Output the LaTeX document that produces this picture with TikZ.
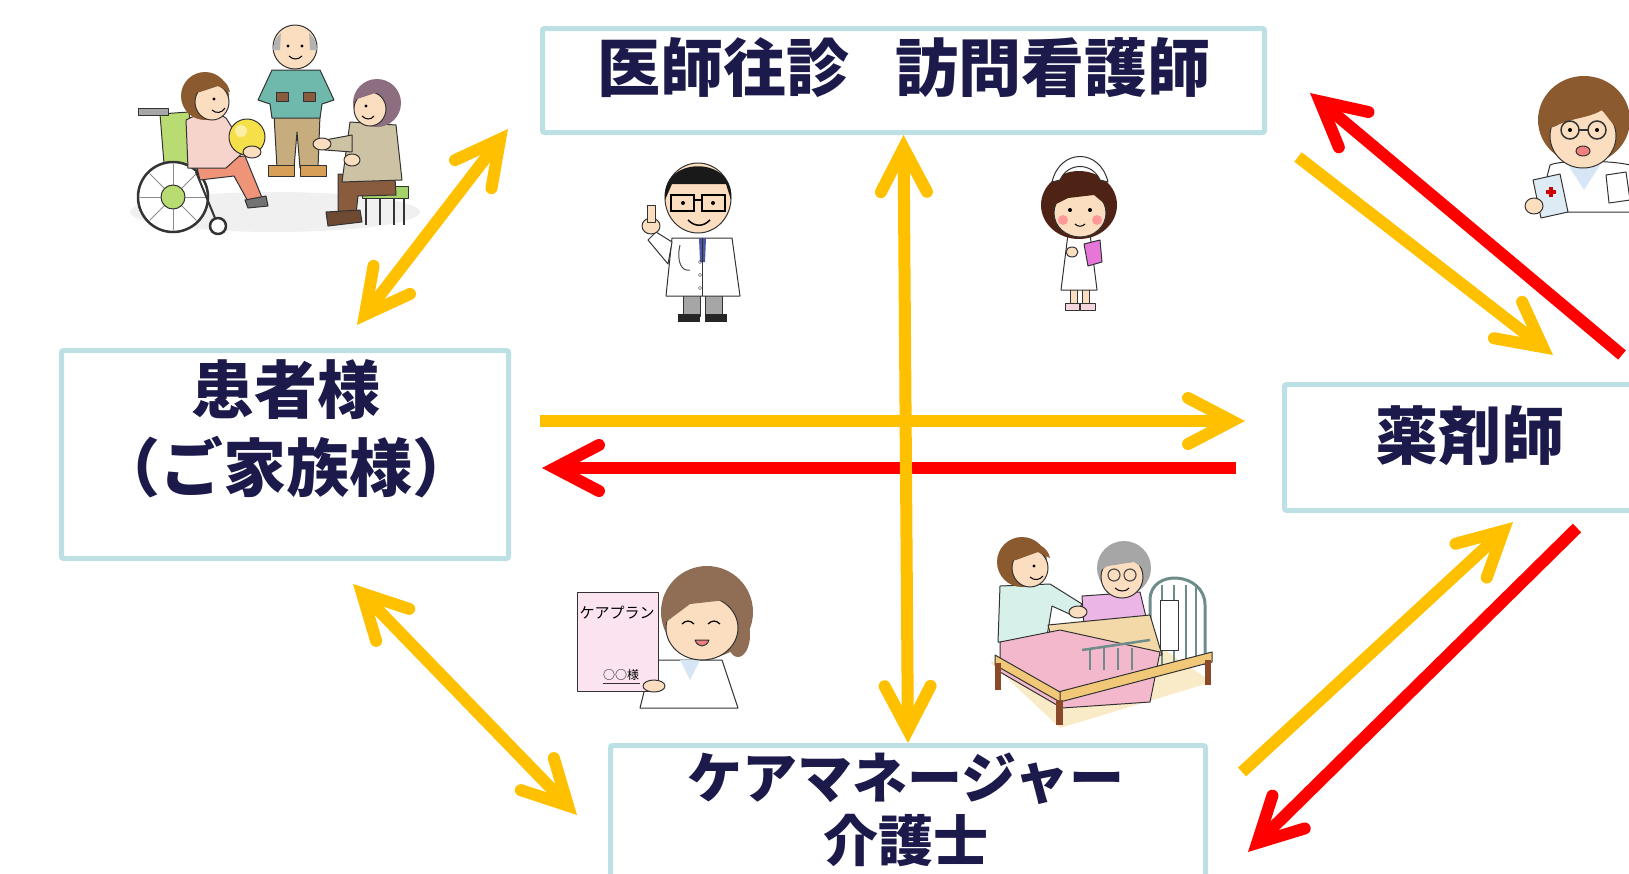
\documentclass[tikz,border=0pt]{standalone}
\usepackage{fontspec}
\newfontfamily\jp{Noto Sans CJK JP}
\usetikzlibrary{arrows.meta,calc}
\definecolor{boxline}{HTML}{BCE0E4}
\definecolor{ink}{HTML}{1C1A4B}
\definecolor{flowY}{HTML}{FFC000}
\definecolor{flowR}{HTML}{FF0000}
\definecolor{skin}{HTML}{FBDDBF}
\definecolor{hairbrown}{HTML}{8B5A2E}
\definecolor{wcgreen}{HTML}{B9DC72}
\definecolor{salmon}{HTML}{EF9379}
\definecolor{pinktop}{HTML}{F6D3CB}
\definecolor{ballY}{HTML}{F5E04A}
\definecolor{teal}{HTML}{6FB9AC}
\definecolor{khaki}{HTML}{C7AC7E}
\definecolor{cardigan}{HTML}{CDC2A4}
\definecolor{purplehair}{HTML}{8D6D80}
\definecolor{brownpants}{HTML}{8A5C3E}
\definecolor{stoolgreen}{HTML}{A6D26A}
\definecolor{tieblue}{HTML}{4A56A0}
\definecolor{hairdark}{HTML}{4E2316}
\definecolor{clippink}{HTML}{E676D8}
\definecolor{pinkshoe}{HTML}{F4D6DE}
\definecolor{boxblue}{HTML}{DDEBF5}
\definecolor{mouthpink}{HTML}{F08080}
\definecolor{hairCM}{HTML}{8F6E55}
\definecolor{sheetpink}{HTML}{FBE4F0}
\definecolor{scarfblue}{HTML}{D6E6F4}
\definecolor{floorcream}{HTML}{F9EBC8}
\definecolor{rail}{HTML}{6E8C8A}
\definecolor{oldpink}{HTML}{EBB5E6}
\definecolor{mint}{HTML}{D7F0EA}
\definecolor{duvet}{HTML}{F3D9A8}
\definecolor{blanketpink}{HTML}{F4B8CC}
\definecolor{wood}{HTML}{F0C878}
\definecolor{legbrown}{HTML}{8A4A2A}
\begin{document}
\begin{tikzpicture}[x=1pt,y=-1pt,
  rolebox/.style={draw=boxline, line width=5pt, rounded corners=2pt, fill=white,
    inner sep=0pt, outer sep=2.5pt},
  lbl/.style={font=\jp\bfseries\fontsize{63}{77}\selectfont, text=ink, inner sep=0pt},
  lblsm/.style={font=\jp\bfseries\fontsize{55}{62}\selectfont, text=ink, inner sep=0pt},
  barb/.tip={Straight Barb[length=44pt,width=46pt,line cap=round,line join=miter]},
  flow/.style={line width=12pt},
  yflow/.style={flow, draw=flowY, -barb},
  yflowboth/.style={flow, draw=flowY, barb-barb},
  rflow/.style={flow, draw=flowR, -barb},
  art/.style={draw=black!80, line width=1pt, line join=round},
  artfill/.style={art, fill=#1},
]
\clip (0,0) rectangle (1629,873);

% ---------- role boxes ----------
\node[rolebox, minimum width=722pt, minimum height=104pt] (doc) at (903.5,80.5) {};
\node[lbl] (doctxt) at (904,68) {医師往診\hspace{0.72em}訪問看護師};

\node[rolebox, minimum width=447pt, minimum height=208pt] (pat) at (285,454.5) {};
\node[lbl] (pattxt1) at (286,390) {患者様};
\node[lbl] (pattxt2) at (286,467) {（ご家族様）};

\node[rolebox, minimum width=415pt, minimum height=126pt] (pha) at (1492,447.5) {};
\node[lbl] (phatxt) at (1470,436) {薬剤師};

\node[rolebox, minimum width=595pt, minimum height=165pt] (cm) at (908,828) {};
\node[lblsm] (cmtxt1) at (906,779) {ケアマネージャー};
\node[lblsm] (cmtxt2) at (906,841) {介護士};

% ---------- elderly group ----------
\fill[black!6] (275,212) ellipse [x radius=145, y radius=20];
% wheelchair
\filldraw[artfill=wcgreen] (160,114) -- (189,112) -- (196,172) -- (165,176) -- cycle;
\filldraw[artfill=black!35] (138,108) rectangle (168,115);
\filldraw[artfill=wcgreen] (175,165) -- (240,160) -- (245,172) -- (180,178) -- cycle;
\draw[art, line width=2.5pt, fill=white] (173,197) circle (35);
\foreach \a in {0,45,...,315} \draw[black!45, line width=1pt] (173,197) -- ++(\a:33);
\filldraw[artfill=wcgreen] (173,197) circle (12);
\draw[art, line width=2.5pt, fill=white] (218,226) circle (8);
\draw[art, line width=2pt] (196,172) -- (215,218);
% woman in wheelchair
\filldraw[artfill=salmon] (195,160) -- (245,156) -- (263,200) -- (250,205) -- (234,176) -- (200,180) -- cycle;
\filldraw[artfill=black!55] (245,200) -- (266,196) -- (268,206) -- (248,208) -- cycle;
\filldraw[artfill=pinktop] (186,120) .. controls (200,112) and (218,112) .. (226,118) -- (246,150) -- (226,168) -- (188,168) -- cycle;
\filldraw[artfill=ballY] (247,137) circle (18);
\fill[white, opacity=.5] (241,131) circle (6);
\filldraw[artfill=skin] (252,152) ellipse [x radius=9, y radius=6];
\fill[hairbrown] (205,96) circle (24);
\filldraw[artfill=skin] (212,102) ellipse [x radius=17, y radius=18];
\fill[hairbrown] (194,92) .. controls (198,72) and (226,72) .. (230,92) -- (218,86) -- (200,92) -- cycle;
\fill (214,99) circle (1.6);
\draw[line width=1pt] (212,110) .. controls (216,114) and (222,113) .. (225,108);
% bald man
\filldraw[artfill=khaki] (274,115) -- (320,115) -- (318,168) -- (300,168) -- (297,132) -- (294,168) -- (277,168) -- cycle;
\filldraw[artfill=khaki!70!orange] (268,165) rectangle (294,176);
\filldraw[artfill=khaki!70!orange] (300,165) rectangle (326,176);
\filldraw[artfill=teal] (272,70) -- (320,70) -- (334,100) -- (322,104) -- (320,118) -- (272,118) -- (270,104) -- (258,100) -- cycle;
\filldraw[artfill=brownpants] (276,92) rectangle (288,101);
\filldraw[artfill=brownpants] (303,92) rectangle (315,101);
\filldraw[artfill=skin] (295,47) circle (22);
\fill[black!30] (273,50) arc[start angle=180, end angle=230, radius=22] -- (280,50) -- cycle;
\fill[black!30] (317,50) arc[start angle=0, end angle=-50, radius=22] -- (310,50) -- cycle;
\fill (288,46) circle (1.6); \fill (302,46) circle (1.6);
\draw[line width=1pt] (289,56) .. controls (293,60) and (298,60) .. (302,56);
% seated woman
\filldraw[artfill=stoolgreen] (362,186) rectangle (408,198);
\foreach \lx in {366,380,394,404} \draw[art, line width=2pt] (\lx,198) -- (\lx,225);
\filldraw[artfill=brownpants] (338,174) -- (395,178) -- (396,195) -- (358,196) -- (356,214) -- (338,214) -- cycle;
\filldraw[artfill=brownpants!80!black] (326,212) -- (360,210) -- (362,222) -- (328,226) -- cycle;
\filldraw[artfill=cardigan] (350,122) -- (396,125) -- (402,180) -- (342,182) -- cycle;
\filldraw[artfill=cardigan] (352,135) -- (325,140) -- (325,150) -- (352,152) -- cycle;
\filldraw[artfill=skin] (322,144) ellipse [x radius=9, y radius=6];
\filldraw[artfill=skin] (352,160) ellipse [x radius=8, y radius=6];
\fill[purplehair] (377,103) circle (24);
\filldraw[artfill=skin] (370,109) ellipse [x radius=16, y radius=17];
\fill[purplehair] (354,100) .. controls (358,80) and (386,80) .. (390,100) -- (378,92) -- (360,98) -- cycle;
\fill (366,106) circle (1.6);
\draw[line width=1pt] (362,116) .. controls (366,120) and (371,120) .. (374,116);

% ---------- doctor ----------
\filldraw[artfill=black!35] (683,292) rectangle (700,316);
\filldraw[artfill=black!35] (705,292) rectangle (722,316);
\fill[black!85] (678,314) rectangle (700,322);
\fill[black!85] (705,314) rectangle (727,322);
\filldraw[artfill=white] (672,238) -- (732,238) -- (740,296) -- (666,296) -- cycle;
\fill[tieblue] (699,238) -- (706,238) -- (705,262) -- (700,262) -- cycle;
\draw[art] (702,238) -- (702,296);
\foreach \by in {262,275,288} \draw[black!70] (700,\by) circle (1.6);
\draw[black!70, line width=1pt] (680,245) .. controls (676,262) and (682,272) .. (690,270);
\filldraw[artfill=white] (672,242) -- (656,232) -- (648,240) -- (668,264) -- cycle;
\filldraw[artfill=skin] (651,226) ellipse [x radius=9, y radius=8];
\filldraw[artfill=skin] (647,205) rectangle (655,222);
\filldraw[artfill=skin] (698,198) ellipse [x radius=33, y radius=35];
\fill[black!90] (665,200) .. controls (660,155) and (736,155) .. (731,200) -- (726,184) -- (672,184) -- cycle;
\draw[black, line width=2pt] (671,195) rectangle (694,211);
\draw[black, line width=2pt] (702,195) rectangle (725,211);
\draw[black, line width=2pt] (694,200) -- (702,200);
\fill (683,203) circle (2); \fill (713,203) circle (2);
\draw[black, line width=1.5pt] (688,220) .. controls (695,227) and (703,227) .. (710,220);

% ---------- nurse ----------
\filldraw[artfill=skin] (1070,288) rectangle (1077,305);
\filldraw[artfill=skin] (1082,288) rectangle (1089,305);
\filldraw[artfill=pinkshoe] (1065,303) rectangle (1079,310);
\filldraw[artfill=pinkshoe] (1080,303) rectangle (1095,310);
\filldraw[artfill=white] (1068,234) -- (1090,234) -- (1097,290) -- (1061,290) -- cycle;
\filldraw[artfill=skin] (1072,252) ellipse [x radius=6, y radius=5];
\filldraw[artfill=clippink] (1084,244) -- (1100,240) -- (1102,262) -- (1088,266) -- cycle;
\fill[hairdark] (1079,205) ellipse [x radius=38, y radius=34];
\filldraw[artfill=skin] (1080,213) ellipse [x radius=26, y radius=24];
\fill[hairdark] (1054,205) .. controls (1060,178) and (1100,178) .. (1106,205) -- (1094,195) -- (1068,198) -- cycle;
\filldraw[artfill=white] (1052,182) .. controls (1060,148) and (1100,148) .. (1108,182) -- (1100,180) .. controls (1092,162) and (1068,162) .. (1060,180) -- cycle;
\fill[red!40] (1063,220) circle (5);
\fill[red!40] (1097,220) circle (5);
\fill (1070,210) circle (2); \fill (1090,210) circle (2);
\draw[line width=1pt] (1075,224) .. controls (1078,227) and (1082,227) .. (1085,224);

% ---------- pharmacist ----------
\filldraw[artfill=white] (1550,165) .. controls (1560,160) and (1610,160) .. (1630,165) -- (1630,212) -- (1538,212) -- cycle;
\fill[scarfblue] (1568,165) -- (1600,165) -- (1584,190) -- cycle;
\fill[hairbrown] (1584,120) ellipse [x radius=46, y radius=44];
\filldraw[artfill=skin] (1583,136) ellipse [x radius=33, y radius=32];
\fill[hairbrown] (1550,128) .. controls (1552,92) and (1614,92) .. (1616,128) -- (1602,110) .. controls (1590,118) and (1570,118) .. (1556,126) -- cycle;
\draw[black!80, line width=1.5pt] (1570,130) circle (9);
\draw[black!80, line width=1.5pt] (1597,130) circle (9);
\draw[black!80, line width=1.5pt] (1579,130) -- (1588,130);
\fill (1570,130) circle (2); \fill (1597,130) circle (2);
\filldraw[art, fill=mouthpink] (1583,151) ellipse [x radius=7, y radius=5];
\filldraw[artfill=boxblue] (1533,180) -- (1560,174) -- (1568,212) -- (1541,218) -- cycle;
\fill[red!80!black] (1546,190) rectangle (1556,194);
\fill[red!80!black] (1549,187) rectangle (1553,197);
\filldraw[artfill=skin] (1534,206) ellipse [x radius=9, y radius=8];
\filldraw[artfill=white] (1606,175) -- (1626,172) -- (1630,200) -- (1609,203) -- cycle;

% ---------- care manager ----------
\filldraw[artfill=white] (652,660) -- (722,660) -- (738,708) -- (640,708) -- cycle;
\fill[scarfblue] (680,660) -- (700,660) -- (690,680) -- cycle;
\fill[hairCM] (707,612) ellipse [x radius=46, y radius=46];
\fill[hairCM] (738,635) ellipse [x radius=12, y radius=22];
\filldraw[artfill=skin] (702,628) ellipse [x radius=36, y radius=32];
\fill[hairCM] (666,622) .. controls (668,578) and (742,574) .. (744,618) -- (726,600) -- (690,604) -- cycle;
\draw[line width=1.2pt] (682,624) .. controls (686,620) and (690,620) .. (694,624);
\draw[line width=1.2pt] (708,624) .. controls (712,620) and (716,620) .. (720,624);
\filldraw[artfill=mouthpink] (695,640) .. controls (698,648) and (706,648) .. (709,640) -- cycle;
\filldraw[artfill=sheetpink] (577,592) rectangle (658,691);
\node[font=\jp\fontsize{15}{15}\selectfont, inner sep=0pt] (cptitle) at (617,613) {ケアプラン};
\node[font=\jp\fontsize{12}{12}\selectfont, inner sep=0pt] (cpname) at (621,675) {○○様};
\draw[black!80] (603,683) -- (640,683);
\filldraw[artfill=skin] (654,686) ellipse [x radius=11, y radius=6];

% ---------- bedside scene ----------
\fill[floorcream] (990,662) -- (1150,640) -- (1212,682) -- (1060,728) -- cycle;
\draw[rail, line width=3pt] (1150,665) -- (1150,600) .. controls (1150,568) and (1205,572) .. (1205,605) -- (1205,665);
\foreach \rx in {1162,1174,1186,1196} \draw[rail, line width=2pt] (\rx,585) -- (\rx,665);
\filldraw[artfill=white] (1160,600) rectangle (1178,650);
\filldraw[artfill=oldpink] (1082,596) -- (1140,592) -- (1152,642) -- (1085,642) -- cycle;
\filldraw[artfill=mint] (1000,586) -- (1050,584) -- (1082,604) -- (1074,616) -- (1052,606) -- (1046,642) -- (998,642) -- cycle;
\filldraw[artfill=skin] (1078,612) ellipse [x radius=9, y radius=6];
\fill[hairbrown] (1022,562) circle (25);
\filldraw[artfill=skin] (1030,568) ellipse [x radius=18, y radius=19];
\fill[hairbrown] (1010,560) .. controls (1014,538) and (1046,538) .. (1050,558) -- (1038,552) -- (1016,560) -- cycle;
\fill (1034,566) circle (1.6);
\draw[line width=1pt] (1030,577) .. controls (1034,581) and (1040,580) .. (1043,576);
\fill[black!35] (1124,568) circle (27);
\filldraw[artfill=skin] (1122,577) ellipse [x radius=21, y radius=21];
\fill[black!35] (1100,570) .. controls (1104,548) and (1142,548) .. (1146,570) -- (1134,562) -- (1108,566) -- cycle;
\draw[black!70, line width=1.2pt] (1114,575) circle (6);
\draw[black!70, line width=1.2pt] (1130,575) circle (6);
\draw[line width=1pt] (1115,588) .. controls (1119,592) and (1126,592) .. (1129,588);
\filldraw[artfill=duvet] (1048,625) -- (1150,615) -- (1162,655) -- (1058,664) -- cycle;
\filldraw[artfill=blanketpink] (1000,642) -- (1060,630) -- (1160,652) -- (1150,702) -- (1062,708) -- (1000,672) -- cycle;
\draw[rail, line width=2.5pt] (1082,650) -- (1150,640);
\foreach \rx in {1090,1104,1118,1132} \draw[rail, line width=2pt] (\rx,648) -- (\rx,670);
\filldraw[artfill=wood] (1058,692) -- (1212,652) -- (1212,662) -- (1060,702) -- cycle;
\filldraw[artfill=wood] (995,655) -- (1060,692) -- (1060,702) -- (995,665) -- cycle;
\fill[legbrown] (995,663) rectangle (1001,690);
\fill[legbrown] (1056,700) rectangle (1063,725);
\fill[legbrown] (1205,660) rectangle (1211,685);

% ---------- flows ----------
\coordinate (tlA) at (357,325);  \coordinate (tlB) at (508,129);
\coordinate (blA) at (353,584);  \coordinate (blB) at (577,815);
\coordinate (hyS) at (540,421);  \coordinate (hyE) at (1245,421);
\coordinate (hrS) at (1236,468); \coordinate (hrE) at (542,468);
\coordinate (tyS) at (1298,157); \coordinate (tyE) at (1553,355);
\coordinate (trS) at (1622,355); \coordinate (trE) at (1310,93);
\coordinate (byS) at (1242,772); \coordinate (byE) at (1513,522);
\coordinate (brS) at (1577,528); \coordinate (brE) at (1248,852);

\draw[yflowboth] (tlA) -- (tlB);
\draw[yflowboth] (blA) -- (blB);
\draw[yflow] (hyS) -- (hyE);
\draw[rflow] (hrS) -- (hrE);
\draw[yflow] (tyS) -- (tyE);
\draw[rflow] (trS) -- (trE);
\draw[yflow] (byS) -- (byE);
\draw[rflow] (brS) -- (brE);
\draw[yflowboth] (doc.south) -- (cm.north);
\end{tikzpicture}
\end{document}
